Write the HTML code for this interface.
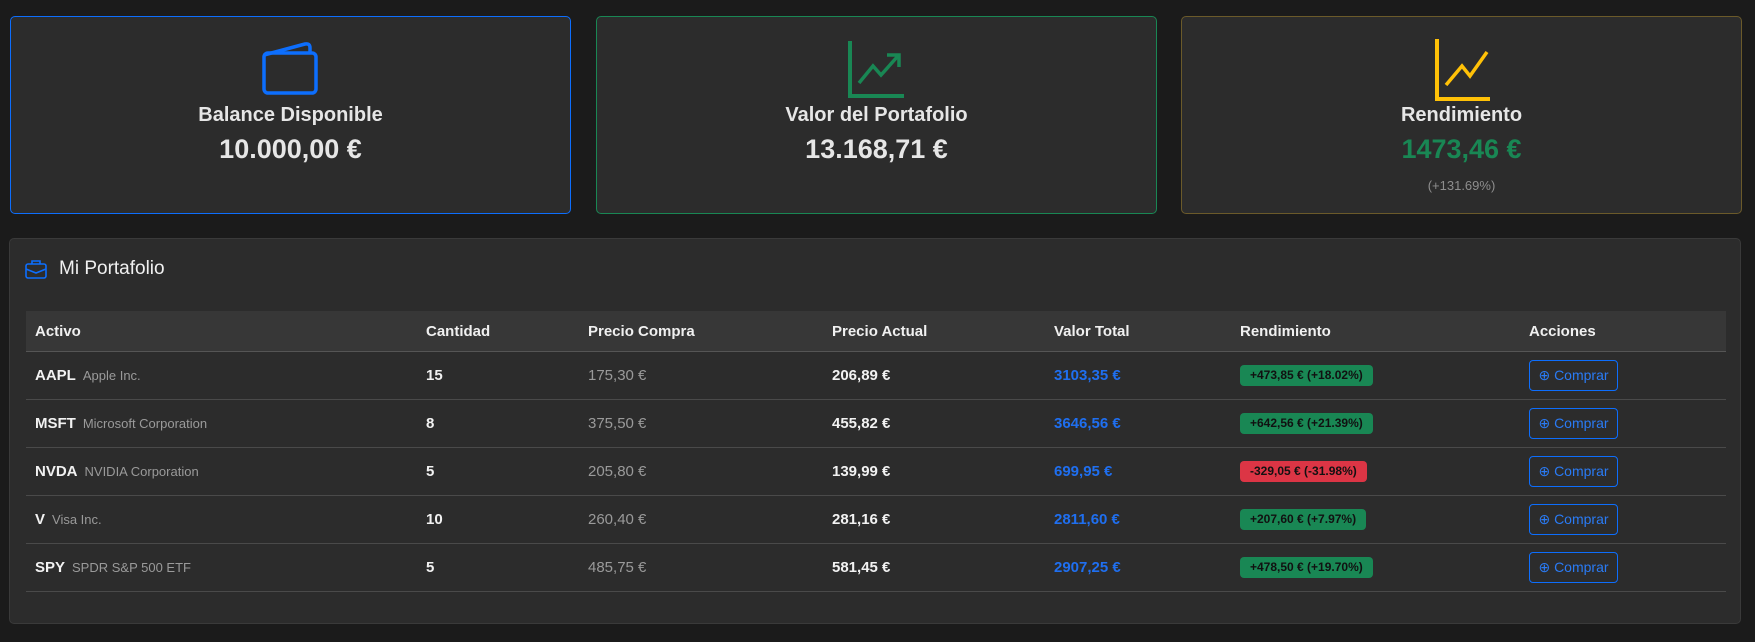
<!DOCTYPE html>
<html><head><meta charset="utf-8"><style>
*{box-sizing:border-box;margin:0;padding:0}
body{width:1755px;height:642px;background:#1b1b1b;font-family:"Liberation Sans",sans-serif;color:#e9e9e9;position:relative;overflow:hidden}
.card{position:absolute;top:16px;width:561px;height:198px;background:#2c2c2c;border:1px solid;border-radius:5px;text-align:center}
.card .icon{position:absolute;left:50%;top:22px;transform:translateX(-50%)}
.card .t{position:absolute;top:87px;width:100%;font-size:20px;font-weight:bold;color:#e6e6e6}
.card .v{position:absolute;top:117px;width:100%;font-size:27px;font-weight:bold;color:#e6e6e6}
.panel{position:absolute;left:9px;top:238px;width:1732px;height:386px;background:#2c2c2c;border:1px solid #3a3a3a;border-radius:5px}
.c{position:absolute;white-space:nowrap}
.hdr{position:absolute;left:26px;top:311px;width:1700px;height:41px;background:#373737;border-bottom:1px solid #555}
.line{position:absolute;left:26px;width:1700px;height:1px;background:#4a4a4a}
.h{font-size:15px;font-weight:bold;color:#f0f0f0;top:323px}
.b{font-size:15px;font-weight:bold;color:#f2f2f2}
.g{font-size:14px;color:#9a9a9a}
.nm{font-size:13px;font-weight:normal;color:#9a9a9a;margin-left:7px}
.blue{color:#1f6ff0;font-weight:bold;font-size:15px}
.badge{position:absolute;height:21px;border-radius:4px;font-size:12px;color:#111;line-height:21px;padding:0 10px;font-weight:bold}
.btn{position:absolute;width:89px;height:31px;border:1px solid #0d6efd;border-radius:4px;color:#2a7bf5;font-size:14px;line-height:29px;text-align:center}
</style></head><body>
<div class="card" style="left:10px;border-color:#0d6efd">
 <svg class="icon" width="60" height="56" viewBox="0 0 60 56"><path d="M3 16 L44 5 Q49 4 49 9 V14" fill="none" stroke="#0d6efd" stroke-width="3.5" stroke-linejoin="round"/><rect x="3" y="14" width="52" height="40" rx="4" fill="none" stroke="#0d6efd" stroke-width="3.5"/></svg>
 <div class="t">Balance Disponible</div>
 <div class="v">10.000,00 €</div>
</div>
<div class="card" style="left:596px;border-color:#198754">
 <svg class="icon" width="60" height="60" viewBox="0 0 60 60"><path d="M3 2 V57 H57" fill="none" stroke="#198754" stroke-width="4"/><path d="M12 44 L26 27 L34 36 L51 17 M40 16 H52 V28" fill="none" stroke="#198754" stroke-width="3.5"/></svg>
 <div class="t">Valor del Portafolio</div>
 <div class="v">13.168,71 €</div>
</div>
<div class="card" style="left:1181px;border-color:#6b5a2a">
 <svg class="icon" width="60" height="62" viewBox="0 0 60 62"><path d="M5 0 V60 H58" fill="none" stroke="#ffc107" stroke-width="4"/><path d="M14 46 L30 27 L38 37 L55 13" fill="none" stroke="#ffc107" stroke-width="3.5"/></svg>
 <div class="t">Rendimiento</div>
 <div class="v" style="color:#198754">1473,46 €</div>
 <div class="c" style="top:161px;width:100%;font-size:13px;color:#8e8e8e">(+131.69%)</div>
</div>
<div class="panel"></div>
<svg class="c" style="left:25px;top:260px" width="22" height="19" viewBox="0 0 22 19"><rect x="1" y="4" width="20" height="14" rx="2" fill="none" stroke="#0d6efd" stroke-width="1.6"/><path d="M7 4 V1 H15 V4 M1 9 L11 13 L21 9" fill="none" stroke="#0d6efd" stroke-width="1.6"/></svg>
<div class="c" style="left:59px;top:258px;font-size:19px;color:#f0f0f0">Mi Portafolio</div>
<div class="hdr"></div>
<div class="c h" style="left:35px">Activo</div>
<div class="c h" style="left:426px">Cantidad</div>
<div class="c h" style="left:588px">Precio Compra</div>
<div class="c h" style="left:832px">Precio Actual</div>
<div class="c h" style="left:1054px">Valor Total</div>
<div class="c h" style="left:1240px">Rendimiento</div>
<div class="c h" style="left:1529px">Acciones</div>
<div id="rows"></div>
<script>
const tickers=["AAPL","MSFT","NVDA","V","SPY"];
const names=["Apple Inc.","Microsoft Corporation","NVIDIA Corporation","Visa Inc.","SPDR S&P 500 ETF"];
const qty=["15","8","5","10","5"];
const buy=["175,30 €","375,50 €","205,80 €","260,40 €","485,75 €"];
const cur=["206,89 €","455,82 €","139,99 €","281,16 €","581,45 €"];
const tot=["3103,35 €","3646,56 €","699,95 €","2811,60 €","2907,25 €"];
const ret=["+473,85 € (+18.02%)","+642,56 € (+21.39%)","-329,05 € (-31.98%)","+207,60 € (+7.97%)","+478,50 € (+19.70%)"];
const R=document.getElementById('rows');
function add(cls,txt,x,y,name,inter,style){const d=document.createElement('div');d.className=cls;d.textContent=txt;d.style.left=x+'px';d.style.top=y+'px';if(style)d.style.cssText+=style;


R.appendChild(d);return d;}
tickers.forEach((t,i)=>{
 const top=352+48*i, ty=top+15;
 const tk=add('c b',t,35,ty,'ticker-'+t.toLowerCase(),'false');
 const s=document.createElement('span');s.className='nm';s.textContent=names[i];
 
 
 tk.appendChild(s);
 add('c b',qty[i],426,ty,'quantity','false');
 add('c g',buy[i],588,ty,'buy-price','false','font-size:15px');
 add('c b',cur[i],832,ty,'current-price','false');
 add('c blue',tot[i],1054,ty,'total-value','false');
 add('badge',ret[i],1240,top+13,'return-badge','false','background:'+(ret[i][0]==='-'?'#dc3545':'#198754'));
 add('btn','⊕ Comprar',1529,top+8,'buy-button','true');
 const l=document.createElement('div');l.className='line';l.style.top=(top+47)+'px';
 
 
 R.appendChild(l);
});
</script>
</body></html>
